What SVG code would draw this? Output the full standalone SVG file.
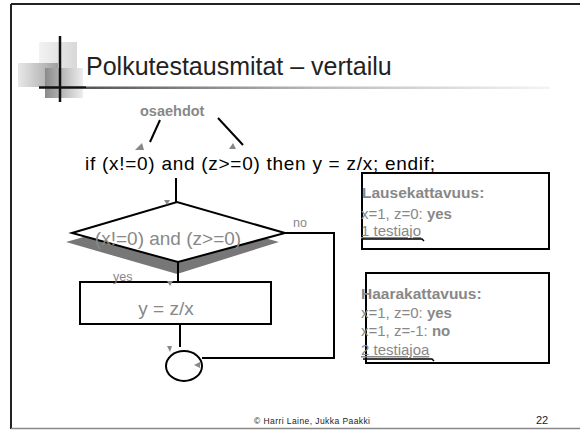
<svg xmlns="http://www.w3.org/2000/svg" width="580" height="430" viewBox="0 0 580 430">
<defs>
<linearGradient id="ul" x1="0" y1="0" x2="1" y2="0"><stop offset="0" stop-color="#333"/><stop offset="0.4" stop-color="#999"/><stop offset="1" stop-color="#fff"/></linearGradient>
<linearGradient id="sqA" x1="0" y1="0" x2="1" y2="0"><stop offset="0" stop-color="#f2f2f2"/><stop offset="1" stop-color="#d8d8d8"/></linearGradient>
<linearGradient id="sqB" x1="0" y1="0" x2="1" y2="0"><stop offset="0" stop-color="#e8e8e8"/><stop offset="1" stop-color="#a0a0a0"/></linearGradient>
<linearGradient id="sqC" x1="0" y1="0" x2="1" y2="0"><stop offset="0" stop-color="#8a8a8a"/><stop offset="1" stop-color="#eeeeee"/></linearGradient>
<linearGradient id="gt" x1="0" y1="0" x2="1" y2="0"><stop offset="0" stop-color="#555"/><stop offset="0.5" stop-color="#bbb"/><stop offset="1" stop-color="#f4f4f4"/></linearGradient>
</defs>
<style>
.ln{stroke:#000;stroke-width:2;fill:none}
.ah{fill:#888}
.t{font-family:"Liberation Sans",Arial,sans-serif}
.g{fill:#888}
.b{font-weight:bold}
</style>
<rect width="580" height="430" fill="#fff"/>
<g id="frame">
<line x1="11" y1="4" x2="580" y2="4" stroke="#222" stroke-width="2"/>
<line x1="11" y1="4" x2="11" y2="429" stroke="#222" stroke-width="2"/>
<line x1="11" y1="428.5" x2="580" y2="428.5" stroke="#888" stroke-width="1.5"/>
</g>
<g id="decor">
<rect x="39" y="42" width="38" height="26" fill="url(#sqA)"/>
<rect x="18" y="63" width="40" height="24" fill="url(#sqB)"/>
<rect x="45" y="68" width="38" height="30" fill="url(#sqC)"/>
<line x1="60" y1="36" x2="60" y2="102" stroke="#111" stroke-width="2.5"/>
<line x1="39" y1="87.5" x2="86" y2="87.5" stroke="#111" stroke-width="2.5"/>
<rect x="86" y="86.5" width="464" height="2.5" fill="url(#gt)"/>
</g>
<g id="title"><text class="t" x="86" y="75" font-size="25" fill="#222">Polkutestausmitat – vertailu</text></g>
<g id="osaehdot"><text class="t b g" x="140" y="116" font-size="14.5">osaehdot</text></g>
<g id="code"><text class="t" x="85" y="170" font-size="19" textLength="350" lengthAdjust="spacing" fill="#000">if (x!=0) and (z&gt;=0) then y = z/x; endif;</text></g>
<g id="decision">
<polygon points="66,242 172,212 279,242 177,274" fill="#777"/>
<polygon points="72,233 177,202 285,233 178,262" fill="#fff" stroke="#000" stroke-width="2"/>
<text class="t g" x="168" y="245" font-size="19" text-anchor="middle">(x!=0) and (z&gt;=0)</text>
</g>
<g id="assign">
<rect x="80" y="282" width="191" height="42" fill="#fff" stroke="#000" stroke-width="2"/>
<text class="t g" x="166" y="315" font-size="19" text-anchor="middle">y = z/x</text>
</g>
<g id="end"><ellipse cx="184" cy="366" rx="18" ry="15" fill="#fff" stroke="#000" stroke-width="2"/></g>
<g id="connectors">
<line class="ln" x1="160" y1="120" x2="150" y2="142"/>
<polygon class="ah" points="135,150 142,143 144,150"/>
<line class="ln" x1="218" y1="118" x2="243" y2="145"/>
<polygon class="ah" points="229,149 233,143 236,149"/>
<line class="ln" x1="176" y1="178" x2="176" y2="203"/>
<polygon class="ah" points="164,200 170,200 167,205"/>
<line class="ln" x1="178" y1="262" x2="178" y2="282"/>
<polygon class="ah" points="167,281 173,281 170,286"/>
<polyline class="ln" points="285,233 334,233 334,358 202,358"/>
<line class="ln" x1="180" y1="324" x2="180" y2="347"/>
<polygon class="ah" points="167,346 172,346 170,352"/>
<polygon class="ah" points="194,365 200,362 200,368"/>
<text class="t g" x="293" y="227" font-size="12.5">no</text>
<text class="t g" x="113" y="281" font-size="12.5">yes</text>
</g>
<g id="box1">
<rect x="362" y="173" width="187" height="76" fill="#fff" stroke="#000" stroke-width="2"/>
<text class="t b g" x="362" y="198" font-size="15.5">Lausekattavuus:</text>
<text class="t g" x="361" y="219" font-size="15">x=1, z=0:  <tspan class="b">yes</tspan></text>
<text class="t g" x="361" y="236" font-size="15" text-decoration="underline">1 testiajo</text>
<polyline points="362,239 422,239 424,241" fill="none" stroke="#000" stroke-width="1.5"/>
</g>
<g id="box2">
<rect x="366" y="273" width="183" height="90" fill="#fff" stroke="#000" stroke-width="2"/>
<text class="t b g" x="361" y="299" font-size="15.5">Haarakattavuus:</text>
<text class="t g" x="361" y="318" font-size="15">x=1, z=0: <tspan class="b">yes</tspan></text>
<text class="t g" x="361" y="336" font-size="15">x=1, z=-1: <tspan class="b">no</tspan></text>
<text class="t g" x="361" y="355" font-size="15" text-decoration="underline">2 testiajoa</text>
<polyline points="363,359 432,359 434,361" fill="none" stroke="#000" stroke-width="1.5"/>
</g>
<g id="footer">
<text class="t" x="254" y="424" font-size="8.5" textLength="116" fill="#222">© Harri Laine, Jukka Paakki</text>
<text class="t" x="536" y="424" font-size="11" fill="#222">22</text>
</g>
</svg>
